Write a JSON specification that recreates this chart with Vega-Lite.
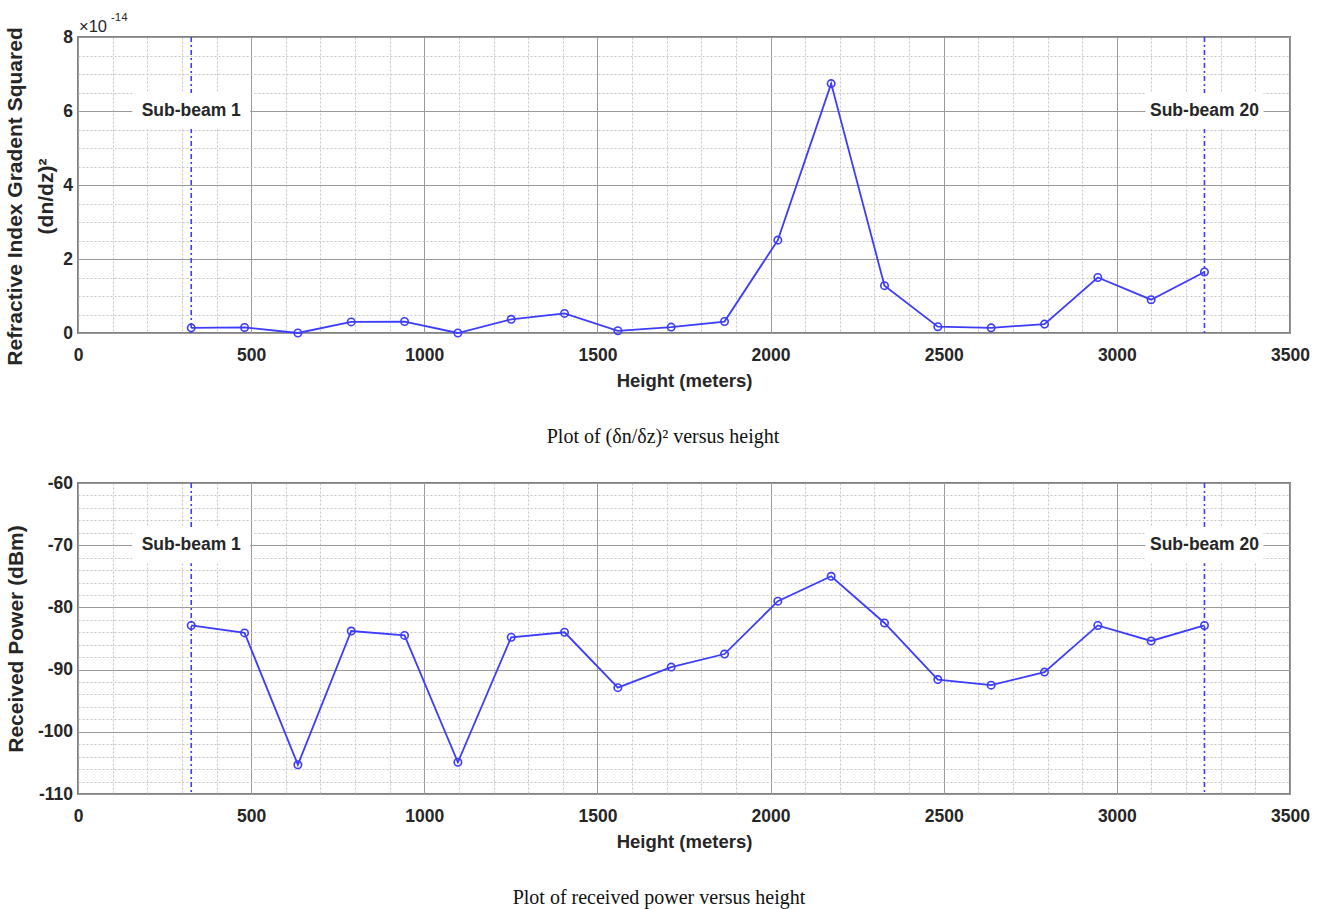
{
  "$schema": "https://vega.github.io/schema/vega-lite/v6.json",
  "background": "white",
  "padding": {"left": 3, "top": 11, "right": 5, "bottom": 5},
  "bounds": "flush",
  "spacing": 150,
  "config": {
    "view": {"stroke": "#808080", "strokeWidth": 2},
    "font": "Liberation Sans"
  },
  "datasets": {
    "profile": [
      {"height": 327, "dndz2_e14": 0.14, "power_dbm": -82.9},
      {"height": 481, "dndz2_e14": 0.15, "power_dbm": -84.1},
      {"height": 635, "dndz2_e14": 0.0, "power_dbm": -105.3},
      {"height": 789, "dndz2_e14": 0.30, "power_dbm": -83.8},
      {"height": 943, "dndz2_e14": 0.31, "power_dbm": -84.5},
      {"height": 1097, "dndz2_e14": 0.0, "power_dbm": -104.9},
      {"height": 1251, "dndz2_e14": 0.37, "power_dbm": -84.8},
      {"height": 1405, "dndz2_e14": 0.53, "power_dbm": -84.0},
      {"height": 1559, "dndz2_e14": 0.06, "power_dbm": -92.9},
      {"height": 1713, "dndz2_e14": 0.16, "power_dbm": -89.6},
      {"height": 1867, "dndz2_e14": 0.31, "power_dbm": -87.5},
      {"height": 2021, "dndz2_e14": 2.51, "power_dbm": -79.0},
      {"height": 2175, "dndz2_e14": 6.74, "power_dbm": -75.0},
      {"height": 2329, "dndz2_e14": 1.28, "power_dbm": -82.5},
      {"height": 2483, "dndz2_e14": 0.17, "power_dbm": -91.6},
      {"height": 2637, "dndz2_e14": 0.14, "power_dbm": -92.5},
      {"height": 2791, "dndz2_e14": 0.24, "power_dbm": -90.4},
      {"height": 2945, "dndz2_e14": 1.50, "power_dbm": -82.9},
      {"height": 3099, "dndz2_e14": 0.90, "power_dbm": -85.4},
      {"height": 3253, "dndz2_e14": 1.65, "power_dbm": -82.9}
    ],
    "subbeams": [
      {"height": 327, "label": "Sub-beam 1"},
      {"height": 3253, "label": "Sub-beam 20"}
    ]
  },
  "vconcat": [
    {
      "width": 1212,
      "height": 296,
      "title": {"text": "Plot of (δn/δz)² versus height", "orient": "bottom", "anchor": "middle", "baseline": "top", "font": "Liberation Serif", "fontSize": 20, "fontWeight": "normal", "color": "#111111", "offset": 37, "dx": -21},
      "layer": [
        {
          "data": {"name": "profile"},
          "mark": {"type": "point", "opacity": 0},
          "encoding": {
            "x": {"field": "height", "type": "quantitative", "scale": {"domain": [0, 3500], "nice": false},
              "axis": {"orient": "bottom", "values": [100,200,300,400,600,700,800,900,1100,1200,1300,1400,1600,1700,1800,1900,2100,2200,2300,2400,2600,2700,2800,2900,3100,3200,3300,3400], "grid": true, "gridColor": "#c4c4c4", "gridDash": [2, 2], "gridWidth": 1, "labels": false, "ticks": false, "domain": false, "title": null}},
            "y": {"field": "dndz2_e14", "type": "quantitative", "scale": {"domain": [0, 8], "nice": false},
              "axis": {"orient": "left", "values": [0.5,1,1.5,2.5,3,3.5,4.5,5,5.5,6.5,7,7.5], "grid": true, "gridColor": "#c4c4c4", "gridDash": [2, 2], "gridWidth": 1, "labels": false, "ticks": false, "domain": false, "title": null}}
          }
        },
        {
          "data": {"name": "subbeams"},
          "mark": {"type": "rule", "color": "#3c3cff", "strokeDash": [5, 3, 2, 3], "strokeWidth": 1.6},
          "encoding": {
            "x": {"field": "height", "type": "quantitative", "axis": null}
          }
        },
        {
          "data": {"name": "subbeams"},
          "mark": {"type": "rect", "fill": "white", "width": 118, "height": 36},
          "encoding": {
            "x": {"field": "height", "type": "quantitative", "axis": null},
            "y": {"datum": 6, "type": "quantitative", "axis": null}
          }
        },
        {
          "data": {"name": "subbeams"},
          "mark": {"type": "text", "font": "Liberation Sans", "fontWeight": "bold", "fontSize": 17.5, "color": "#262626", "align": "center", "baseline": "middle"},
          "encoding": {
            "x": {"field": "height", "type": "quantitative", "axis": null},
            "y": {"datum": 6, "type": "quantitative", "axis": null},
            "text": {"field": "label"}
          }
        },
        {
          "data": {"name": "profile"},
          "mark": {"type": "line", "color": "#3c3cff", "strokeWidth": 1.8, "point": {"filled": false, "shape": "circle", "size": 55, "color": "#3c3cff", "strokeWidth": 1.6}},
          "encoding": {
            "x": {"field": "height", "type": "quantitative", "scale": {"domain": [0, 3500], "nice": false},
              "axis": {"orient": "bottom", "values": [0,500,1000,1500,2000,2500,3000,3500], "format": "d", "grid": true, "gridColor": "#9a9a9a", "gridWidth": 1, "ticks": false, "domain": false, "labelFlush": false, "labelOverlap": false, "labelPadding": 13, "labelFont": "Liberation Sans", "labelFontWeight": "bold", "labelFontSize": 17.5, "labelColor": "#262626", "title": "Height (meters)", "titleFont": "Liberation Sans", "titleFontSize": 18.5, "titleFontWeight": "bold", "titleColor": "#262626", "titlePadding": 8}},
            "y": {"field": "dndz2_e14", "type": "quantitative", "scale": {"domain": [0, 8], "nice": false},
              "axis": {"orient": "left", "values": [0,2,4,6,8], "grid": true, "gridColor": "#9a9a9a", "gridWidth": 1, "ticks": false, "domain": false, "labelPadding": 5.5, "labelFont": "Liberation Sans", "labelFontWeight": "bold", "labelFontSize": 17.5, "labelColor": "#262626", "title": ["Refractive Index Gradent Squared", "(dn/dz)²"], "titleFont": "Liberation Sans", "titleFontSize": 21, "titleFontWeight": "bold", "titleColor": "#262626", "titleLineHeight": 31, "titleX": -53, "titleY": 159}}
          }
        },
        {
          "data": {"values": [{"txt": "×10"}]},
          "mark": {"type": "text", "font": "Liberation Sans", "fontSize": 16.5, "color": "#262626", "align": "left", "baseline": "alphabetic", "dx": 1, "dy": -5},
          "encoding": {
            "x": {"datum": 0, "type": "quantitative", "axis": null},
            "y": {"datum": 8, "type": "quantitative", "axis": null},
            "text": {"field": "txt"}
          }
        },
        {
          "data": {"values": [{"txt": "-14"}]},
          "mark": {"type": "text", "font": "Liberation Sans", "fontSize": 11.5, "color": "#262626", "align": "left", "baseline": "alphabetic", "dx": 33, "dy": -16},
          "encoding": {
            "x": {"datum": 0, "type": "quantitative", "axis": null},
            "y": {"datum": 8, "type": "quantitative", "axis": null},
            "text": {"field": "txt"}
          }
        }
      ],
      "resolve": {"axis": {"x": "independent", "y": "independent"}}
    },
    {
      "width": 1212,
      "height": 311,
      "title": {"text": "Plot of received power versus height", "orient": "bottom", "anchor": "middle", "baseline": "top", "font": "Liberation Serif", "fontSize": 20, "fontWeight": "normal", "color": "#111111", "offset": 37, "dx": -25},
      "layer": [
        {
          "data": {"name": "profile"},
          "mark": {"type": "point", "opacity": 0},
          "encoding": {
            "x": {"field": "height", "type": "quantitative", "scale": {"domain": [0, 3500], "nice": false},
              "axis": {"orient": "bottom", "values": [100,200,300,400,600,700,800,900,1100,1200,1300,1400,1600,1700,1800,1900,2100,2200,2300,2400,2600,2700,2800,2900,3100,3200,3300,3400], "grid": true, "gridColor": "#c4c4c4", "gridDash": [2, 2], "gridWidth": 1, "labels": false, "ticks": false, "domain": false, "title": null}},
            "y": {"field": "power_dbm", "type": "quantitative", "scale": {"domain": [-110, -60], "nice": false, "zero": false},
              "axis": {"orient": "left", "values": [-108,-106,-104,-102,-98,-96,-94,-92,-88,-86,-84,-82,-78,-76,-74,-72,-68,-66,-64,-62], "grid": true, "gridColor": "#c4c4c4", "gridDash": [2, 2], "gridWidth": 1, "labels": false, "ticks": false, "domain": false, "title": null}}
          }
        },
        {
          "data": {"name": "subbeams"},
          "mark": {"type": "rule", "color": "#3c3cff", "strokeDash": [5, 3, 2, 3], "strokeWidth": 1.6},
          "encoding": {
            "x": {"field": "height", "type": "quantitative", "axis": null}
          }
        },
        {
          "data": {"name": "subbeams"},
          "mark": {"type": "rect", "fill": "white", "width": 118, "height": 36},
          "encoding": {
            "x": {"field": "height", "type": "quantitative", "axis": null},
            "y": {"datum": -70, "type": "quantitative", "axis": null}
          }
        },
        {
          "data": {"name": "subbeams"},
          "mark": {"type": "text", "font": "Liberation Sans", "fontWeight": "bold", "fontSize": 17.5, "color": "#262626", "align": "center", "baseline": "middle"},
          "encoding": {
            "x": {"field": "height", "type": "quantitative", "axis": null},
            "y": {"datum": -70, "type": "quantitative", "axis": null},
            "text": {"field": "label"}
          }
        },
        {
          "data": {"name": "profile"},
          "mark": {"type": "line", "color": "#3c3cff", "strokeWidth": 1.8, "point": {"filled": false, "shape": "circle", "size": 55, "color": "#3c3cff", "strokeWidth": 1.6}},
          "encoding": {
            "x": {"field": "height", "type": "quantitative", "scale": {"domain": [0, 3500], "nice": false},
              "axis": {"orient": "bottom", "values": [0,500,1000,1500,2000,2500,3000,3500], "format": "d", "grid": true, "gridColor": "#9a9a9a", "gridWidth": 1, "ticks": false, "domain": false, "labelFlush": false, "labelOverlap": false, "labelPadding": 13, "labelFont": "Liberation Sans", "labelFontWeight": "bold", "labelFontSize": 17.5, "labelColor": "#262626", "title": "Height (meters)", "titleFont": "Liberation Sans", "titleFontSize": 18.5, "titleFontWeight": "bold", "titleColor": "#262626", "titlePadding": 8}},
            "y": {"field": "power_dbm", "type": "quantitative", "scale": {"domain": [-110, -60], "nice": false, "zero": false},
              "axis": {"orient": "left", "values": [-110,-100,-90,-80,-70,-60], "labelExpr": "toString(datum.value)", "grid": true, "gridColor": "#9a9a9a", "gridWidth": 1, "ticks": false, "domain": false, "labelPadding": 5.5, "labelFont": "Liberation Sans", "labelFontWeight": "bold", "labelFontSize": 17.5, "labelColor": "#262626", "title": "Received Power (dBm)", "titleFont": "Liberation Sans", "titleFontSize": 21, "titleFontWeight": "bold", "titleColor": "#262626", "titleX": -52}}
          }
        }
      ],
      "resolve": {"axis": {"x": "independent", "y": "independent"}}
    }
  ]
}
